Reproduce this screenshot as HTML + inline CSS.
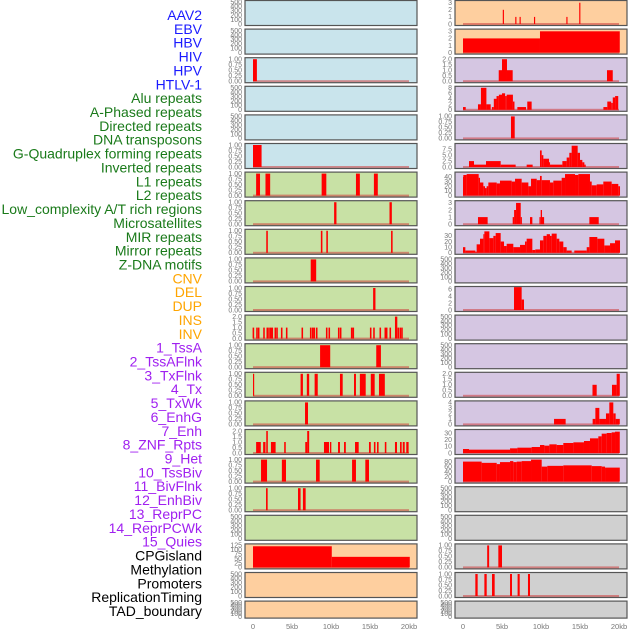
<!DOCTYPE html>
<html><head><meta charset="utf-8"><style>
html,body{margin:0;padding:0;background:#fff;}
svg{display:block;font-family:"Liberation Sans",sans-serif;}
</style></head><body>
<svg id="chart" width="630" height="630" viewBox="0 0 630 630"></svg>
<script>
// ---- data ----
const labelTexts = ["AAV2","EBV","HBV","HIV","HPV","HTLV-1","Alu repeats","A-Phased repeats","Directed repeats","DNA transposons","G-Quadruplex forming repeats","Inverted repeats","L1 repeats","L2 repeats","Low_complexity A/T rich regions","Microsatellites","MIR repeats","Mirror repeats","Z-DNA motifs","CNV","DEL","DUP","INS","INV","1_TssA","2_TssAFlnk","3_TxFlnk","4_Tx","5_TxWk","6_EnhG","7_Enh","8_ZNF_Rpts","9_Het","10_TssBiv","11_BivFlnk","12_EnhBiv","13_ReprPC","14_ReprPCWk","15_Quies","CPGisland","Methylation","Promoters","ReplicationTiming","TAD_boundary"];
const labelGroups = [6,13,5,15,5];
const xTickValues = [0,5,10,15,20];
const xTickLabels = ["0","5kb","10kb","15kb","20kb"];

const T_EMPTY = ["0","100","200","300","400","500"];
const T_Q = ["0.00","0.25","0.50","0.75","1.00"];
const T_H = ["0.0","0.5","1.0","1.5","2.0"];

const leftMax = [500,500,1,500,500,1,1,1,1,1,1,2,1,1,1,2,1,1,500,125,500,500];
const leftTicks = [T_EMPTY,T_EMPTY,T_Q,T_EMPTY,T_EMPTY,T_Q,T_Q,T_Q,T_Q,T_Q,T_Q,T_H,T_Q,T_Q,T_Q,T_H,T_Q,T_Q,T_EMPTY,["0","25","50","75","100","125"],T_EMPTY,T_EMPTY];
const insCenters = [0.05,0.51,0.73,1.41,1.83,2.05,2.27,2.47,2.86,3.08,3.68,4.32,6.32,7.4,7.65,7.86,8.17,9.45,9.78,10.99,11.24,12.65,12.86,15.09,15.51,16.32,16.96,17.14,17.6,18.63,18.89,19.1];
const leftSegs = [
 [],[],
 [[0,0.5,1]],
 [],[],
 [[0,1.1,1]],
 [[0.4,0.9,1],[1.6,2.2,1],[8.8,9.4,1],[13.2,13.7,1],[15.5,16.0,1]],
 [[10.4,10.7,1],[17.5,17.8,1]],
 [[1.7,1.9,1],[8.7,8.9,1],[9.4,9.6,1],[17.7,17.9,1]],
 [[7.4,8.1,1]],
 [[15.4,15.7,1]],
 insCenters.map(c=>[c-0.1,c+0.1,1]).concat([[18.2,18.5,2]]),
 [[8.6,9.9,1],[15.8,16.4,1]],
 [[0,0.15,1],[6.1,6.4,1],[6.9,7.2,1],[7.9,8.3,1],[11.15,11.5,1],[12.95,13.2,1],[13.7,14.45,1],[15.1,15.6,1],[16.15,16.9,1]],
 [[6.67,7.05,1]],
 [[0.4,1.0,1],[1.3,1.6,1],[1.7,1.9,2],[2.3,2.9,1],[4.0,4.2,1],[6.7,6.95,1],[6.95,7.2,2],[9.1,9.75,1],[9.87,10.04,1],[10.9,11.15,1],[11.67,11.9,1],[13.08,13.55,1],[14.87,15.1,1],[15.5,15.7,1],[15.9,16.1,1],[16.9,17.1,1],[18.2,18.46,1],[18.85,19.06,1],[19.2,19.45,1],[19.65,19.95,1]],
 [[1.03,1.8,1],[3.7,4.23,1],[8.08,8.55,1],[12.7,13.2,1],[14.4,14.87,1]],
 [[1.67,1.88,1],[5.77,6.1,1],[6.4,6.75,1]],
 [],
 [[0,10.1,120],[10.1,20.1,60]],
 [],[]
];

const rightMax = [3.1,3.1,2,8,1,9.3,47,3.1,39,500,6.3,500,500,2,4,33,88,500,500,1,1,500];
const rightTicks = [["0","1","2","3"],["0","1","2","3"],T_H,["0","2","4","6","8"],T_Q,["0.0","2.5","5.0","7.5"],["0","10","20","30","40"],["0","1","2","3"],["0","10","20","30"],T_EMPTY,["0","2","4","6"],T_EMPTY,T_EMPTY,T_H,["0","1","2","3","4"],["0","10","20","30"],["0","20","40","60","80"],T_EMPTY,T_EMPTY,T_Q,T_Q,T_EMPTY];
const rightSegs = [
 [[5.1,5.25,2],[6.7,6.85,1],[7.25,7.4,1],[9.1,9.25,1],[13.25,13.4,1],[14.9,15.05,3]],
 [[0,9.87,2],[9.87,20.1,3]],
 [[4.58,5.0,1],[5.0,5.64,2],[5.64,6.37,1],[18.46,19.2,1]],
 [[0,0.35,1],[1.92,2.3,2],[2.3,3.0,8],[3.0,3.55,2],[3.7,3.95,1],[3.95,4.3,4],[4.3,4.6,5],[4.6,5.0,5.5],[5.0,5.4,6],[5.4,5.6,5],[5.6,6.4,5.5],[6.4,6.6,3],[6.97,8.08,1],[8.24,8.8,3],[18.0,18.5,1],[18.5,19.0,3],[19.0,19.2,2.5],[19.2,19.5,4.5],[19.5,19.9,5]],
 [[6.15,6.63,1]],
 [[0.77,1.41,2.5],[1.41,2.95,1],[2.95,4.83,2.5],[4.83,6.75,1],[8.16,8.93,1],[9.87,10.09,7],[10.09,10.3,5],[10.3,11.03,3.5],[11.03,11.15,2],[11.15,12.74,1],[12.74,13.29,2.5],[13.29,13.63,4],[13.63,13.93,6],[13.93,14.7,9],[14.7,15.0,6],[15.0,15.3,3],[15.3,15.56,2],[15.56,15.73,1]],
 [[0,0.04,40],[0.04,0.47,44],[0.47,2.01,46],[2.01,2.18,38],[2.18,2.61,28],[2.61,2.82,20],[2.82,3.03,16],[3.03,3.25,20],[3.25,4.32,28],[4.32,4.74,26],[4.74,6.24,32],[6.24,6.67,30],[6.67,7.52,36],[7.52,8.38,28],[8.38,8.72,20],[8.72,9.45,36],[9.45,9.87,33],[9.87,10.09,42],[10.09,11.15,33],[11.15,11.58,28],[11.58,12.65,32],[12.65,13.08,38],[13.08,14.36,46],[14.36,14.79,44],[14.79,16.28,46],[16.28,16.5,30],[16.5,17.14,22],[17.14,17.99,24],[17.99,19.06,30],[19.06,19.91,25],[19.91,20.13,20]],
 [[1.92,3.16,1],[6.37,6.55,1],[6.55,6.8,2],[6.8,7.4,3],[7.4,7.55,1],[8.59,8.89,1],[9.8,9.96,1],[9.96,10.13,2],[10.13,10.4,1],[16.2,17.4,1]],
 [[0,0.3,10],[0.3,1.58,4],[1.58,1.75,2],[1.75,2.18,15],[2.18,2.61,25],[2.61,2.74,33],[2.74,3.38,38],[3.38,3.89,26],[3.89,4.19,30],[4.19,4.83,35],[4.83,5.26,20],[5.26,5.6,12],[5.6,6.45,16],[6.45,7.31,10],[7.31,7.95,14],[7.95,8.16,20],[8.16,8.89,25],[8.89,9.27,5],[9.27,9.87,6],[9.87,10.3,22],[10.3,10.73,30],[10.73,11.15,33],[11.15,11.37,30],[11.37,12.01,34],[12.01,12.35,25],[12.35,12.86,20],[12.86,13.29,10],[13.29,13.93,4],[14.27,15.86,4],[15.86,16.2,10],[16.2,17.22,28],[17.22,18.12,25],[18.12,18.85,13],[18.85,19.49,17],[19.49,20.13,22]],
 [],
 [[6.54,7.52,7],[7.52,7.82,3]],
 [],[],
 [[16.6,17.14,1],[19.1,19.7,1],[19.7,20.1,2]],
 [[11.67,13.16,1],[16.62,16.97,1],[16.97,17.48,3],[17.48,18.33,1],[18.33,18.76,2],[18.76,19.27,4],[19.27,19.57,2],[19.57,20.1,1]],
 [[0,0.77,6],[0.77,6.03,5],[6.03,6.97,7],[6.97,8.8,8],[8.8,9.87,9],[9.87,10.43,12],[10.43,11.07,11],[11.07,12.01,13],[12.01,12.86,12],[12.86,14.15,15],[14.15,15.51,16],[15.51,16.28,18],[16.28,17.35,22],[17.35,17.78,25],[17.78,18.42,29],[18.42,19.06,30],[19.06,19.49,31],[19.49,20.1,32]],
 [[0,2.39,80],[2.39,4.32,75],[4.32,4.74,70],[4.74,6.03,78],[6.03,6.45,82],[6.45,6.88,78],[6.88,7.52,80],[7.52,8.72,82],[8.72,10.09,88],[10.09,10.81,60],[10.81,12.86,63],[12.86,16.5,65],[16.5,17.78,62],[17.78,18.21,60],[18.21,20.1,56]],
 [],[],
 [[3.1,3.35,1],[4.53,5.0,1]],
 [[1.58,1.88,1],[2.74,3.04,1],[3.72,4.06,1],[6.03,6.28,1],[7.0,7.27,1],[8.33,8.59,1]],
 []
];

// ---- styling (not data) ----
const BLUE="#c9e4ec", GREEN="#c8e1a5", ORANGE="#fecf9f", PURPLE="#d5c6e2", GREY="#d0d0d0";
const leftBg = i => i<6?BLUE:(i<19?GREEN:ORANGE);
const rightBg = i => i<2?ORANGE:(i<17?PURPLE:GREY);
const labelColors = ["#1a1aff","#1a7a1a","#ffa500","#a020f0","#000000"];

const NS="http://www.w3.org/2000/svg";
const svg=document.getElementById('chart');
function mk(tag,attrs,parent){const e=document.createElementNS(NS,tag);for(const k in attrs)e.setAttribute(k,attrs[k]);(parent||svg).appendChild(e);return e;}

// axes helpers
const PANEL_W=172, LEFT_X=245, RIGHT_X=455;
function xScale(px0){return kb=>px0+8+kb*7.8;}
function rowTop(i){return 0.5+i*28.6;}
function rowH(i){return i===21?17:25;}
function yScale(i,ymax){const t=rowTop(i),h=rowH(i);return v=>t+h-1.5-Math.min(v/ymax,1.04)*(h-3);}

// labels
let idx=0;
labelGroups.forEach((n,g)=>{for(let k=0;k<n;k++){
  const t=mk('text',{x:202,y:15+idx*13.86+5,'text-anchor':'end','font-size':'14',fill:labelColors[g]});
  t.textContent=labelTexts[idx];
  
  
  idx++;}});

function drawPanel(px0,i,segs,ymax,ticks,bg,side){
  const g=mk('g',{});
  
  
  const t=rowTop(i),h=rowH(i);
  const bgr=mk('rect',{x:px0,y:t,width:PANEL_W,height:h,fill:bg},g);
  
  
  const xs=xScale(px0), ys=yScale(i,ymax);
  const tickMax=parseFloat(ticks[ticks.length-1]);
  ticks.forEach(lbl=>{
    const v=parseFloat(lbl);
    const yy = ymax>=400 ? t+h-1.5-(v/500)*(h-3) : ys(v);
    const tt=mk('text',{x:px0-3,y:yy+2.3,'text-anchor':'end','font-size':'7',fill:'#777'},g);
    tt.textContent=lbl;
    
    
  });
  if(segs.length){
    const base=mk('rect',{x:xs(0),y:ys(0)-1,width:xs(20)-xs(0),height:2,fill:'rgba(205,60,60,0.55)'},g);
    
    
  }
  segs.forEach(s=>{
    const y0=ys(0), y1=Math.max(ys(s[2]),t+0.5);
    const r=mk('rect',{x:xs(s[0]),y:y1,width:Math.max(xs(s[1])-xs(s[0]),1),height:y0-y1,fill:'#ff0000'},g);
    
    
  });
  const bd=mk('rect',{x:px0,y:t,width:PANEL_W,height:h,fill:'none',stroke:'#555','stroke-width':1.2},g);
  
  
}
for(let i=0;i<22;i++){
  drawPanel(LEFT_X,i,leftSegs[i],leftMax[i],leftTicks[i],leftBg(i),'left');
  drawPanel(RIGHT_X,i,rightSegs[i],rightMax[i],rightTicks[i],rightBg(i),'right');
}
// x axes
[LEFT_X,RIGHT_X].forEach((px0,j)=>{
  const xs=xScale(px0);
  xTickValues.forEach((v,k)=>{
    const tx=mk('text',{x:xs(v),y:629,'text-anchor':'middle','font-size':'7.5',fill:'#777'});
    tx.textContent=xTickLabels[k];
    
    
  });
});
</script>
</body></html>
